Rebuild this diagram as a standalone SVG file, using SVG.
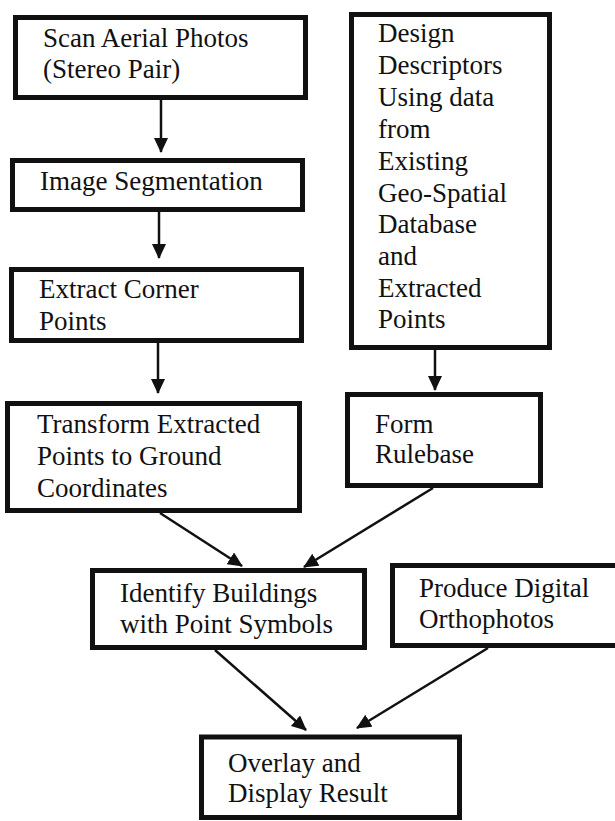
<svg xmlns="http://www.w3.org/2000/svg" width="615" height="821" viewBox="0 0 615 821">
<style>
.box{fill:#fff;stroke:#111;stroke-width:5}
.t{font-family:"Liberation Serif","Times New Roman",serif;font-size:27px;fill:#111}
.c{stroke:#111;stroke-width:2.5;fill:none;marker-end:url(#ah)}
</style>
<defs>
<marker id="ah" markerUnits="userSpaceOnUse" markerWidth="16" markerHeight="14" refX="14" refY="7" orient="auto">
<path d="M0,0 L15,7 L0,14 z" fill="#111"/>
</marker>
</defs>
<rect width="615" height="821" fill="#fff"/>
<g id="connectors">
<line class="c" x1="161" y1="100" x2="161" y2="152"/>
<line class="c" x1="159" y1="212" x2="159" y2="258"/>
<line class="c" x1="158" y1="343" x2="158" y2="393"/>
<line class="c" x1="435" y1="350" x2="435" y2="390"/>
<line class="c" x1="160" y1="513" x2="242" y2="566"/>
<line class="c" x1="433" y1="488" x2="304" y2="567"/>
<line class="c" x1="215" y1="650" x2="306" y2="730"/>
<line class="c" x1="488" y1="648" x2="357" y2="728"/>
</g>
<g id="scan">
<rect class="box" x="15.5" y="17.5" width="290" height="80"/>
<text class="t" x="43" y="47">Scan Aerial Photos</text>
<text class="t" x="43" y="78">(Stereo Pair)</text>
</g>
<g id="segmentation">
<rect class="box" x="12.5" y="160.5" width="290" height="49"/>
<text class="t" x="40" y="190">Image Segmentation</text>
</g>
<g id="corners">
<rect class="box" x="11.5" y="269.5" width="290" height="71"/>
<text class="t" x="39" y="298">Extract Corner</text>
<text class="t" x="39" y="330">Points</text>
</g>
<g id="transform">
<rect class="box" x="7.5" y="403.5" width="292" height="107"/>
<text class="t" x="37" y="433">Transform Extracted</text>
<text class="t" x="37" y="465">Points to Ground</text>
<text class="t" x="37" y="497">Coordinates</text>
</g>
<g id="descriptors">
<rect class="box" x="351.5" y="14.5" width="198" height="333"/>
<text class="t" x="378" y="42">Design</text>
<text class="t" x="378" y="74">Descriptors</text>
<text class="t" x="378" y="106">Using data</text>
<text class="t" x="378" y="138">from</text>
<text class="t" x="378" y="170">Existing</text>
<text class="t" x="378" y="202">Geo-Spatial</text>
<text class="t" x="378" y="233">Database</text>
<text class="t" x="378" y="265">and</text>
<text class="t" x="378" y="297">Extracted</text>
<text class="t" x="378" y="328">Points</text>
</g>
<g id="rulebase">
<rect class="box" x="347.5" y="394.5" width="193" height="91"/>
<text class="t" x="375" y="433">Form</text>
<text class="t" x="375" y="463">Rulebase</text>
</g>
<g id="identify">
<rect class="box" x="92.5" y="570.5" width="272" height="77"/>
<text class="t" x="120" y="602">Identify Buildings</text>
<text class="t" x="120" y="633">with Point Symbols</text>
</g>
<g id="orthophotos">
<rect class="box" x="392.5" y="565.5" width="235" height="80"/>
<text class="t" x="419" y="597">Produce Digital</text>
<text class="t" x="419" y="628">Orthophotos</text>
</g>
<g id="overlay">
<rect class="box" x="201.5" y="737" width="258" height="80.5"/>
<text class="t" x="228" y="772">Overlay and</text>
<text class="t" x="228" y="802">Display Result</text>
</g>
</svg>
